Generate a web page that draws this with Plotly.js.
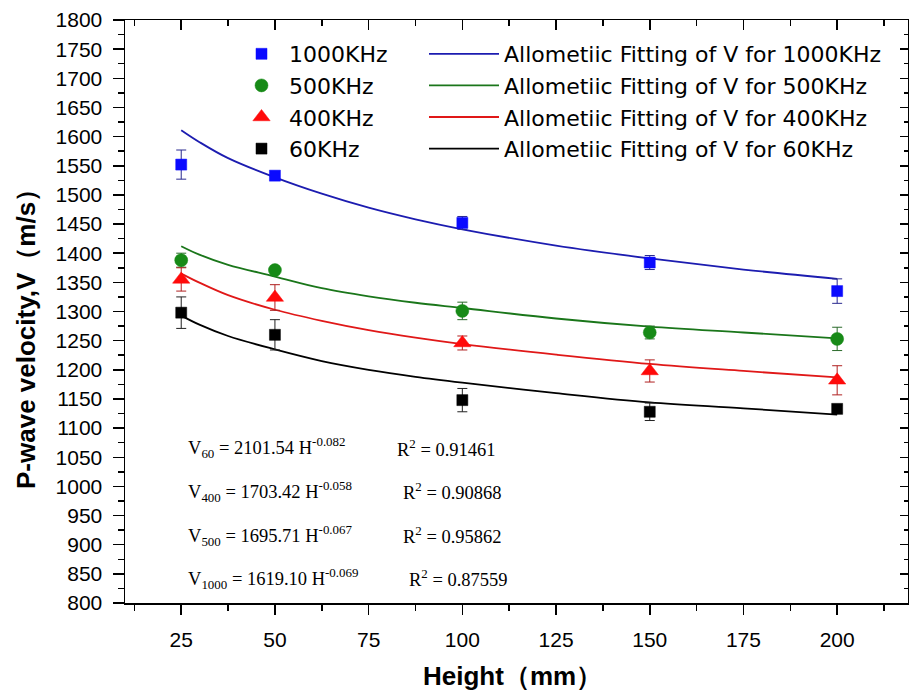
<!DOCTYPE html>
<html>
<head>
<meta charset="utf-8">
<script src="https://cdn.plot.ly/plotly-3.0.1.min.js"></script>
<style>html,body{margin:0;padding:0;background:#fff;}#chart{width:909px;height:690px;}</style>
</head>
<body>
<div id="chart"></div>
<script>
// ---- data ----
const heights = [25, 50, 100, 150, 200];
const v1000 = [1552, 1533, 1452, 1384, 1335];
const e1000 = [25, 6, 11, 12, 21];
const v500 = [1388, 1371, 1301, 1264, 1253];
const e500 = [12, 6, 15, 11, 20];
const v400 = [1355, 1324, 1246, 1198, 1182];
const e400 = [20, 22, 12, 19, 25];
const v60 = [1298, 1260, 1148, 1128, 1133];
const e60 = [27, 26, 20, 15, 6];

const fitH = [25, 30, 37.5, 50, 62.5, 75, 87.5, 100, 125, 150, 175, 200];
const fit1000 = [1611, 1590, 1563, 1530, 1502, 1478, 1458, 1441, 1413, 1391, 1372, 1356];
const fit500 = [1412, 1397, 1380, 1360, 1340, 1326, 1315, 1306, 1288, 1274, 1264, 1254];
const fit400 = [1365, 1349, 1328, 1303, 1284, 1268, 1255, 1244, 1226, 1210, 1198, 1187];
const fit60 = [1293, 1277, 1258, 1235, 1215, 1200, 1188, 1178, 1160, 1144, 1134, 1123];

const seriesNames = ['1000KHz', '500KHz', '400KHz', '60KHz'];
const fitNames = ['Allometiic Fitting of V for 1000KHz', 'Allometiic Fitting of V for 500KHz',
                  'Allometiic Fitting of V for 400KHz', 'Allometiic Fitting of V for 60KHz'];
const equations = ['V<sub>60</sub> = 2101.54 H<sup>-0.082</sup>', 'V<sub>400</sub> = 1703.42 H<sup>-0.058</sup>',
                   'V<sub>500</sub> = 1695.71 H<sup>-0.067</sup>', 'V<sub>1000</sub> = 1619.10 H<sup>-0.069</sup>'];
const rsq = ['R<sup>2</sup> = 0.91461', 'R<sup>2</sup> = 0.90868', 'R<sup>2</sup> = 0.95862', 'R<sup>2</sup> = 0.87559'];
const xTicks = [25, 50, 75, 100, 125, 150, 175, 200];

// ---- styling ----
const vals = [v1000, v500, v400, v60];
const errs = [e1000, e500, e400, e60];
const fits = [fit1000, fit500, fit400, fit60];
const markerColors = ['#0a0aff', '#178a17', '#ff0a0a', '#000000'];
const lineColors = ['#1c1cb0', '#1a761a', '#e01818', '#000000'];
const errColors = ['#2a2a90', '#2a6a2a', '#b02020', '#222222'];
const symbols = ['square', 'circle', 'triangle-up', 'square'];
const sizes = [11, 13, 15, 11];

const traces = [];
for (let i = 0; i < 4; i++) {
  traces.push({
    x: fitH, y: fits[i], mode: 'lines', name: fitNames[i], legend: 'legend2',
    line: {color: lineColors[i], width: 1.8, shape: 'spline', smoothing: 1},
    hoverinfo: 'skip'
  });
}
for (let i = 0; i < 4; i++) {
  traces.push({
    x: heights, y: vals[i], mode: 'markers', name: seriesNames[i], legend: 'legend',
    marker: {symbol: symbols[i], size: sizes[i], color: markerColors[i],
             line: {width: 0.5, color: markerColors[i]}},
    error_y: {type: 'data', array: errs[i], visible: true, color: errColors[i], thickness: 1, width: 5}
  });
}
// helper trace to activate top/right mirror axes
traces.push({x: [100], y: [1300], xaxis: 'x2', yaxis: 'y2', mode: 'markers',
             marker: {opacity: 0}, showlegend: false, hoverinfo: 'skip'});

const tickFont = {family: 'Liberation Sans, Arial, sans-serif', size: 21, color: '#000'};
const legFont = {family: 'DejaVu Sans, sans-serif', size: 22, color: '#000'};
const xr = [10, 218.9];
const yr = [800, 1800];

const L = 125, T = 20, W = 783, H = 583;
const px = x => (x - L) / W;
const py = y => (T + H - y) / H;

const annotations = [
  {text: 'P-wave velocity,V（m/s）', textangle: -90, xref: 'paper', yref: 'paper',
   x: px(26), y: py(333), xanchor: 'center', yanchor: 'middle', showarrow: false,
   font: {family: 'Liberation Sans, Arial, sans-serif', size: 26, weight: 700, color: '#000'}},
  {text: 'Height（mm）', xref: 'paper', yref: 'paper', x: px(512), y: py(676),
   xanchor: 'center', yanchor: 'middle', showarrow: false,
   font: {family: 'Liberation Sans, Arial, sans-serif', size: 26, weight: 700, color: '#000'}}
];
const eqY = [448, 491, 535, 578];
const rX = [395, 401, 401, 407];
for (let i = 0; i < 4; i++) {
  annotations.push({text: equations[i], xref: 'paper', yref: 'paper', x: px(186), y: py(eqY[i]),
    xanchor: 'left', yanchor: 'middle', showarrow: false,
    font: {family: 'Liberation Serif, Times New Roman, serif', size: 18.5, color: '#000'}});
  annotations.push({text: rsq[i], xref: 'paper', yref: 'paper', x: px(rX[i]), y: py(eqY[i]),
    xanchor: 'left', yanchor: 'middle', showarrow: false,
    font: {family: 'Liberation Serif, Times New Roman, serif', size: 18.5, color: '#000'}});
}

const layout = {
  width: 909, height: 690,
  margin: {l: L, r: 909 - L - W, t: T, b: 690 - T - H, pad: 0},
  paper_bgcolor: '#fff', plot_bgcolor: '#fff',
  showlegend: true,
  xaxis: {range: xr, tickvals: xTicks, ticktext: xTicks.map(String), ticks: 'outside', ticklen: 10, tickwidth: 1.5,
          tickcolor: '#000', showline: true, linecolor: '#000', linewidth: 1.5, showgrid: false, zeroline: false,
          tickfont: tickFont, ticklabelstandoff: 7,
          minor: {dtick: 12.5, tick0: 0, ticks: 'outside', ticklen: 6, tickwidth: 1.5, tickcolor: '#000', showgrid: false}},
  yaxis: {range: yr, dtick: 50, tick0: 800, ticks: 'outside', ticklen: 11, tickwidth: 1.5,
          tickcolor: '#000', showline: true, linecolor: '#000', linewidth: 1.5, showgrid: false, zeroline: false,
          tickfont: tickFont, ticklabelstandoff: 6,
          minor: {dtick: 25, tick0: 800, ticks: 'outside', ticklen: 6, tickwidth: 1.5, tickcolor: '#000', showgrid: false}},
  xaxis2: {range: xr, overlaying: 'x', side: 'top', anchor: 'y2', tickvals: xTicks, ticks: 'inside', ticklen: 10,
           tickwidth: 1.5, tickcolor: '#000', showticklabels: false, showline: true, linecolor: '#000', linewidth: 1.5,
           showgrid: false, zeroline: false,
           minor: {dtick: 12.5, tick0: 0, ticks: 'inside', ticklen: 6, tickwidth: 1.5, tickcolor: '#000', showgrid: false}},
  yaxis2: {range: yr, overlaying: 'y', side: 'right', anchor: 'x2', dtick: 50, tick0: 800, ticks: 'inside', ticklen: 8,
           tickwidth: 1.5, tickcolor: '#000', showticklabels: false, showline: true, linecolor: '#000', linewidth: 1.5,
           showgrid: false, zeroline: false,
           minor: {dtick: 25, tick0: 800, ticks: 'inside', ticklen: 4, tickwidth: 1.5, tickcolor: '#000', showgrid: false}},
  legend: {x: px(234), y: py(33), xanchor: 'left', yanchor: 'top', bgcolor: 'rgba(0,0,0,0)',
           font: legFont, tracegroupgap: 0, itemwidth: 45},
  legend2: {x: px(424), y: py(33), xanchor: 'left', yanchor: 'top', bgcolor: 'rgba(0,0,0,0)',
           font: legFont, tracegroupgap: 0, itemwidth: 70},
  annotations: annotations
};

Plotly.newPlot('chart', traces, layout, {displayModeBar: false, staticPlot: true});
</script>
</body>
</html>
